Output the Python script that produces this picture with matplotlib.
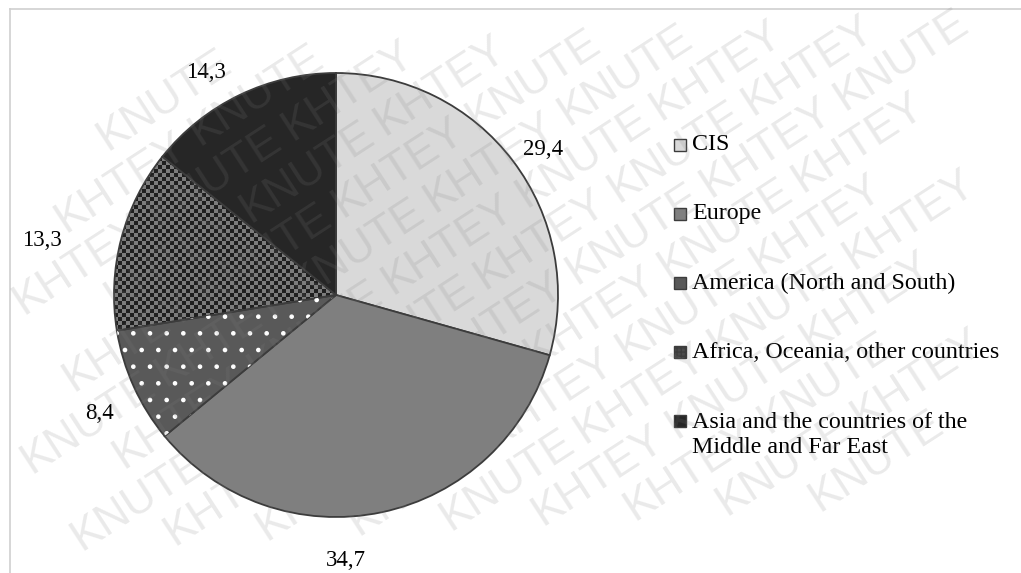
import numpy as np
import matplotlib
matplotlib.use("Agg")
import matplotlib.pyplot as plt
from matplotlib.patches import Wedge, Rectangle
from matplotlib.lines import Line2D
from matplotlib.colors import ListedColormap

# shares of regions, %
regions = ["CIS", "Europe", "America (North and South)",
           "Africa, Oceania, other countries",
           "Asia and the countries of the\nMiddle and Far East"]
shares = [29.4, 34.7, 8.4, 13.3, 14.3]
labels = [f"{v:.1f}".replace(".", ",") for v in shares]

colors = ["#d9d9d9", "#7f7f7f", "#595959", "none", "#262626"]
edge = "#3c3c3c"

plt.rcParams["font.family"] = ["Liberation Serif", "DejaVu Serif"]
plt.rcParams["hatch.linewidth"] = 0.9

W, H = 1021, 573
fig = plt.figure(figsize=(W / 100, H / 100), dpi=100)
fig.patch.set_facecolor("white")

# pie: centre (336, 295) px, radius 222 px
R = 222
ax = fig.add_axes([(336 - R) / W, (H - 295 - R) / H, 2 * R / W, 2 * R / H])
wedges, texts = ax.pie(shares, labels=labels, colors=colors, startangle=90,
                       counterclock=False, labeldistance=1.17,
                       wedgeprops=dict(edgecolor=edge, linewidth=1.3),
                       textprops=dict(fontsize=16.5, color="black"))

# labels sit a little low; a few are pushed sideways (px)
x_shift = [0, -44, 0, -43, -17]
for t, dx in zip(texts, x_shift):
    x, y = t.get_position()
    t.set_position((x + dx / R, y - 0.05))
    t.set_ha("center")
    t.set_va("center")

# white dots on the America slice
w = wedges[2]
dots = Wedge((0, 0), 1, w.theta1, w.theta2, facecolor="none",
             edgecolor="white", linewidth=0, hatch=".")
ax.add_patch(dots)

# checkerboard on the Africa slice
n = 111
checker = np.indices((n, n)).sum(axis=0) % 2
im = ax.imshow(checker, cmap=ListedColormap(["#1f1f1f", "#7c7c7c"]),
               extent=(-1, 1, -1, 1), interpolation="nearest", zorder=0)
im.set_clip_path(wedges[3])

ax.set_xlim(-1, 1)
ax.set_ylim(-1, 1)
ax.set_aspect("equal")
ax.axis("off")

# legend drawn by hand
leg_x, leg_y0, leg_step, box = 674, 145, 69, 12
handle_faces = ["#d9d9d9", "#7f7f7f", "#595959", "#4a4a4a", "#262626"]
for i, (name, fc) in enumerate(zip(regions, handle_faces)):
    y = leg_y0 + i * leg_step
    rect = Rectangle((leg_x / W, (H - y - box / 2) / H), box / W, box / H,
                     transform=fig.transFigure, facecolor=fc,
                     edgecolor=edge, linewidth=1.0,
                     hatch="++++" if i == 3 else None)
    fig.add_artist(rect)
    if "\n" in name:
        fig.text((leg_x + 18) / W, (H - y + 9) / H, name, fontsize=17.3,
                 va="top", ha="left", linespacing=1.22)
    else:
        fig.text((leg_x + 18) / W, (H - y) / H, name, fontsize=17.3,
                 va="center", ha="left")

# thin frame, top and left
fig.add_artist(Line2D([10 / W, 1], [1 - 9 / H, 1 - 9 / H],
                      transform=fig.transFigure, color="#cfcfcf", lw=1.2))
fig.add_artist(Line2D([10 / W, 10 / W], [0, 1 - 9 / H],
                      transform=fig.transFigure, color="#cfcfcf", lw=1.2))

# KNUTE / KHTEY watermark over everything, whole words only
ang = np.deg2rad(33)
u = np.array([np.cos(ang), -np.sin(ang)])   # along a row (px, y down)
v = np.array([np.sin(ang), np.cos(ang)])    # to the next row
pitch, step = 46, 160
marks = []
for k in range(-30, 30):
    for j in range(-14, 14):
        p = k * pitch * v + (j + 0.5 * (k % 2)) * step * u + np.array([300, 300])
        if not (-200 < p[0] < W + 50 and -50 < p[1] < H + 200):
            continue
        word = "KNUTE" if (j + k) % 2 == 0 else "KHTEY"
        marks.append(fig.text(p[0] / W, (H - p[1]) / H, word, rotation=33,
                              rotation_mode="anchor", ha="left",
                              va="baseline", fontsize=32,
                              family="Liberation Sans", color="#808080",
                              alpha=0.17, zorder=10))

renderer = fig.canvas.get_renderer()
for t in marks:
    bb = t.get_window_extent(renderer)
    if bb.x0 < 0 or bb.y0 < 0 or bb.x1 > W or bb.y1 > H:
        t.remove()

fig.savefig("out.png", dpi=100)
